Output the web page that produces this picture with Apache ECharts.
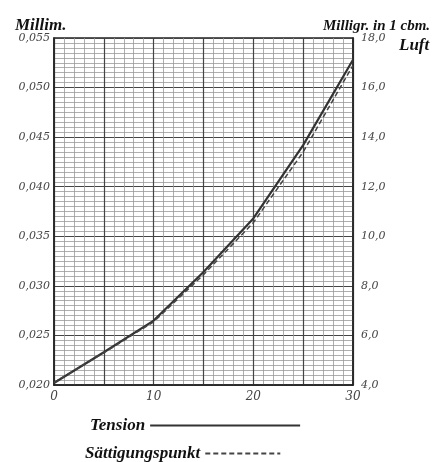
<!DOCTYPE html>
<html><head><meta charset="utf-8">
<script src="https://cdn.jsdelivr.net/npm/echarts@6/dist/echarts.min.js"></script>
<style>html,body{margin:0;padding:0;background:#fff}#c{width:442px;height:462px}</style>
</head><body><div id="c"></div>
<script>
const xValues = [0, 5, 10, 15, 20, 25, 30];
const tension = [0.0202, 0.0233, 0.0265, 0.0314, 0.0368, 0.0442, 0.0528];
const saettigung = [4.1, 5.3, 6.55, 8.45, 10.55, 13.4, 16.9];
const leftTicks = {min: 0.020, max: 0.055, interval: 0.005};
const rightTicks = {min: 4, max: 18, interval: 2};
const xTicks = {min: 0, max: 30, interval: 5, labelled: [0, 10, 20, 30]};

const chart = echarts.init(document.getElementById('c'));
const serif = 'Liberation Serif';
const lblStyle = {color: '#444', fontStyle: 'italic', fontFamily: 'DejaVu Serif', fontSize: 11};
const noSym = {color: 'transparent', borderColor: 'transparent', borderWidth: 0};
chart.setOption({
  animation: false,
  grid: {left: 54, right: 89, top: 38, bottom: 77, show: true, borderColor: '#222', borderWidth: 1.5},
  title: [
    {text: 'Millim.', left: 10, top: 12, textStyle: {fontFamily: serif, fontStyle: 'italic', fontWeight: 'bold', fontSize: 17, color: '#111'}},
    {text: 'Milligr. in 1 cbm.', left: 318, top: 14, textStyle: {fontFamily: serif, fontStyle: 'italic', fontWeight: 'bold', fontSize: 15, color: '#111'}},
    {text: 'Luft', left: 394, top: 32, textStyle: {fontFamily: serif, fontStyle: 'italic', fontWeight: 'bold', fontSize: 17, color: '#111'}}
  ],
  legend: [
    {data: ['Tension'], left: 85, top: 412, align: 'right', itemWidth: 150, itemHeight: 10, itemStyle: noSym,
     textStyle: {fontFamily: serif, fontStyle: 'italic', fontWeight: 'bold', fontSize: 17, color: '#111'}},
    {data: ['Sättigungspunkt'], left: 80, top: 440, align: 'right', itemWidth: 75, itemHeight: 10, itemStyle: noSym,
     textStyle: {fontFamily: serif, fontStyle: 'italic', fontWeight: 'bold', fontSize: 17, color: '#111'}}
  ],
  xAxis: {
    type: 'value', min: xTicks.min, max: xTicks.max, interval: xTicks.interval,
    axisLine: {show: true, lineStyle: {color: '#222', width: 1.5}},
    axisTick: {show: false},
    axisLabel: Object.assign({margin: 6, formatter: v => xTicks.labelled.includes(v) ? String(v) : ''}, lblStyle, {fontSize: 12}),
    splitLine: {show: true, lineStyle: {color: '#444', width: 1.2}},
    minorTick: {show: false, splitNumber: 5},
    minorSplitLine: {show: true, lineStyle: {color: '#999', width: 0.8}}
  },
  yAxis: [
    {type: 'value', min: leftTicks.min, max: leftTicks.max, interval: leftTicks.interval,
     axisLine: {show: true, lineStyle: {color: '#222', width: 1.5}},
     axisTick: {show: false},
     axisLabel: Object.assign({margin: 4, formatter: v => v.toFixed(3).replace('.', ',')}, lblStyle),
     splitLine: {show: true, lineStyle: {color: '#444', width: 1.2}},
     minorTick: {show: false, splitNumber: 10},
     minorSplitLine: {show: true, lineStyle: {color: '#999', width: 0.8}}
    },
    {type: 'value', min: rightTicks.min, max: rightTicks.max, interval: rightTicks.interval, position: 'right',
     axisLine: {show: true, lineStyle: {color: '#222', width: 1.5}},
     axisTick: {show: false},
     axisLabel: Object.assign({margin: 8, formatter: v => v.toFixed(1).replace('.', ',')}, lblStyle),
     splitLine: {show: false}
    }
  ],
  series: [
    {name: 'Tension', type: 'line', yAxisIndex: 0, symbol: 'none',
     data: xValues.map((x, i) => [x, tension[i]]),
     lineStyle: {color: '#333', width: 2.2}, itemStyle: {color: '#333'}},
    {name: 'Sättigungspunkt', type: 'line', yAxisIndex: 1, symbol: 'none',
     data: xValues.map((x, i) => [x, saettigung[i]]),
     lineStyle: {color: '#444', width: 1.5, type: [5, 3]}, itemStyle: {color: '#444'}}
  ]
});
</script></body></html>
